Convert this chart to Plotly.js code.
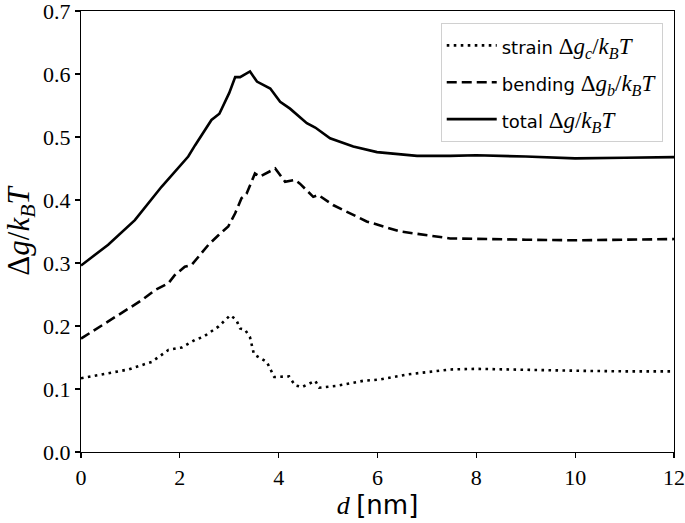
<!DOCTYPE html>
<html>
<head>
<meta charset="utf-8">
<script src="https://cdn.plot.ly/plotly-3.0.1.min.js"></script>
<style>
  body { margin: 0; background: #fff; }
  #chart { width: 685px; height: 523px; }
</style>
</head>
<body>
<div id="chart"></div>
<script>
// strain curve
const dStrain = [0, 0.55, 0.96, 1.43, 1.77, 2.04, 2.31, 2.48, 2.78, 3.02, 3.14, 3.22, 3.32, 3.42, 3.46, 3.5, 3.76, 3.84, 3.91, 4.21, 4.33, 4.47, 4.74, 4.82, 5.18, 5.71, 6.05, 6.59, 7.47, 8, 9, 10, 11, 12];
const strain = [0.117, 0.125, 0.131, 0.143, 0.162, 0.166, 0.178, 0.183, 0.199, 0.217, 0.21, 0.196, 0.194, 0.182, 0.168, 0.155, 0.143, 0.131, 0.119, 0.120, 0.106, 0.103, 0.113, 0.102, 0.105, 0.113, 0.115, 0.123, 0.131, 0.132, 0.130, 0.129, 0.128, 0.128];

// bending curve
const dBend = [0, 0.55, 0.96, 1.23, 1.5, 1.77, 1.9, 2.1, 2.24, 2.44, 2.58, 2.78, 2.98, 3.12, 3.25, 3.35, 3.52, 3.62, 3.93, 4.13, 4.33, 4.43, 4.7, 4.8, 5.1, 5.78, 6.46, 7.47, 8, 9, 10, 11, 12];
const bending = [0.180, 0.207, 0.228, 0.241, 0.257, 0.268, 0.281, 0.294, 0.297, 0.315, 0.329, 0.344, 0.358, 0.379, 0.403, 0.41, 0.442, 0.437, 0.450, 0.429, 0.432, 0.426, 0.405, 0.408, 0.392, 0.366, 0.350, 0.339, 0.338, 0.337, 0.336, 0.337, 0.338];

// total curve
const dTotal = [0, 0.55, 1.09, 1.63, 2.17, 2.31, 2.64, 2.8, 3.0, 3.12, 3.22, 3.42, 3.56, 3.83, 4.03, 4.23, 4.57, 4.74, 5.04, 5.51, 5.99, 6.8, 7.47, 8, 9, 10, 11, 12];
const total = [0.296, 0.329, 0.368, 0.421, 0.469, 0.487, 0.527, 0.537, 0.57, 0.595, 0.595, 0.604, 0.588, 0.577, 0.556, 0.545, 0.522, 0.515, 0.498, 0.485, 0.476, 0.470, 0.470, 0.471, 0.469, 0.466, 0.467, 0.468];

const xTicks = [0, 2, 4, 6, 8, 10, 12];
const yTicks = [0, 0.1, 0.2, 0.3, 0.4, 0.5, 0.6, 0.7];

const serif = 'Liberation Serif';
// plain words of the legend in a sans face, the math stays serif
const w = s => '<span style="font-family:DejaVu Sans;font-size:18px">' + s + '</span>';

const traces = [
  {
    x: dStrain, y: strain, type: 'scatter', mode: 'lines', legendgroup: 'a',
    name: w('strain') + ' Δ<i>g</i><sub><i>c</i></sub>/<i>k</i><sub><i>B</i></sub><i>T</i>',
    line: {color: '#000', width: 2.6, dash: '2.6px,4.4px'},
  },
  {
    x: dBend, y: bending, type: 'scatter', mode: 'lines', legendgroup: 'b',
    name: w('bending') + ' Δ<i>g</i><sub><i>b</i></sub>/<i>k</i><sub><i>B</i></sub><i>T</i>',
    line: {color: '#000', width: 2.6, dash: '10px,5px'},
  },
  {
    x: dTotal, y: total, type: 'scatter', mode: 'lines', legendgroup: 'c',
    name: w('total') + ' Δ<i>g</i>/<i>k</i><sub><i>B</i></sub><i>T</i>',
    line: {color: '#000', width: 2.6},
  },
];

const layout = {
  width: 685,
  height: 523,
  margin: {l: 81, r: 11, t: 11, b: 71},
  paper_bgcolor: '#fff',
  plot_bgcolor: '#fff',
  showlegend: true,
  legend: {
    x: 0.981, y: 0.973, xanchor: 'right', yanchor: 'top',
    bgcolor: 'rgba(255,255,255,0.8)',
    bordercolor: '#d0d0d0', borderwidth: 1,
    font: {family: serif, size: 23, color: '#000'},
    tracegroupgap: 4,
    itemwidth: 50,
  },
  xaxis: {
    range: [0, 12],
    tickvals: xTicks,
    ticktext: xTicks.map(String),
    ticks: 'outside', ticklen: 5, tickwidth: 1.2, tickcolor: '#000',
    showline: true, linecolor: '#000', linewidth: 1.2, mirror: true,
    showgrid: false, zeroline: false, ticklabeloverflow: 'allow',
    tickfont: {family: serif, size: 22, color: '#000'},
    title: {text: '<i>d</i> <span style="font-family:DejaVu Sans">[nm]</span>', font: {family: serif, size: 26, color: '#000'}, standoff: 4},
  },
  yaxis: {
    range: [0, 0.7],
    tickvals: yTicks,
    ticktext: yTicks.map(v => v.toFixed(1)),
    ticks: 'outside', ticklen: 5, tickwidth: 1.2, tickcolor: '#000',
    showline: true, linecolor: '#000', linewidth: 1.2, mirror: true,
    showgrid: false, zeroline: false, ticklabeloverflow: 'allow',
    tickfont: {family: serif, size: 22, color: '#000'},
    title: {text: 'Δ<i>g</i>/<i>k</i><sub><i>B</i></sub><i>T</i>', font: {family: serif, size: 31, color: '#000'}, standoff: 4},
  },
};

Plotly.newPlot('chart', traces, layout, {displayModeBar: false, staticPlot: true});
</script>
</body>
</html>
